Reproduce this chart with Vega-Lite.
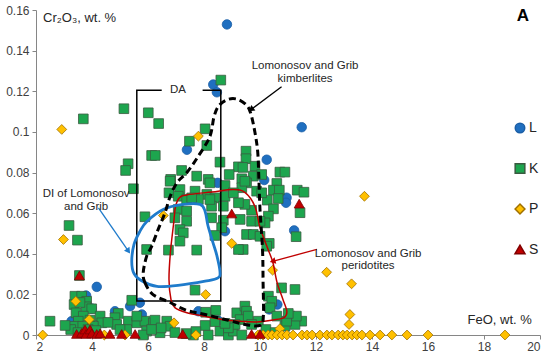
{
  "$schema": "https://vega.github.io/schema/vega-lite/v6.json",
  "width": 504,
  "height": 325,
  "autosize": {"type": "none"},
  "padding": {"left": 36, "top": 10, "right": 10, "bottom": 23},
  "config": {"view": {"stroke": null}, "font": "Liberation Sans"},
  "datasets": {
    "pts": [
      {"s":"L","x":8.82,"y":0.1529},{"s":"L","x":8.33,"y":0.1233},{"s":"L","x":8.46,"y":0.1195},{"s":"L","x":11.49,"y":0.1023},{"s":"L","x":7.39,"y":0.0912},{"s":"L","x":10.24,"y":0.0863},{"s":"L","x":10.15,"y":0.0763},{"s":"L","x":8.49,"y":0.0749},{"s":"L","x":10.95,"y":0.0676},{"s":"L","x":10.93,"y":0.0651},{"s":"L","x":8.75,"y":0.0511},{"s":"L","x":11.22,"y":0.0515},{"s":"L","x":4.17,"y":0.0237},{"s":"L","x":10.62,"y":0.015},{"s":"L","x":10.33,"y":0.0126},{"s":"L","x":5.36,"y":0.0142},{"s":"L","x":5.71,"y":0.0159},{"s":"L","x":5.78,"y":0.0101},{"s":"L","x":4.82,"y":0.0117},{"s":"L","x":7.8,"y":0.0117},{"s":"L","x":3.99,"y":0.013},{"s":"L","x":3.27,"y":0.0068},{"s":"L","x":3.79,"y":0.0194},{"s":"L","x":9.5,"y":0.011},{"s":"L","x":8.5,"y":0.0071},
      {"s":"K","x":3.69,"y":0.1064},{"s":"K","x":5.14,"y":0.1114},{"s":"K","x":6.01,"y":0.1094},{"s":"K","x":6.38,"y":0.1041},{"s":"K","x":6.13,"y":0.0884},{"s":"K","x":6.26,"y":0.0884},{"s":"K","x":5.29,"y":0.0843},{"s":"K","x":5.2,"y":0.081},{"s":"K","x":7.48,"y":0.0954},{"s":"K","x":8.04,"y":0.1015},{"s":"K","x":8.1,"y":0.0933},{"s":"K","x":7.2,"y":0.081},{"s":"K","x":6.81,"y":0.0766},{"s":"K","x":8.6,"y":0.1255},{"s":"K","x":8.57,"y":0.0851},{"s":"K","x":9.5,"y":0.0905},{"s":"K","x":9.5,"y":0.0868},{"s":"K","x":9.23,"y":0.0828},{"s":"K","x":9.82,"y":0.0831},{"s":"K","x":10.71,"y":0.0802},{"s":"K","x":10.89,"y":0.0802},{"s":"K","x":8.9,"y":0.079},{"s":"K","x":9.39,"y":0.0825},{"s":"K","x":9.35,"y":0.0769},{"s":"K","x":9.76,"y":0.0782},{"s":"K","x":9.52,"y":0.0749},{"s":"K","x":9.35,"y":0.0725},{"s":"K","x":9.88,"y":0.0708},{"s":"K","x":10.6,"y":0.0746},{"s":"K","x":10.48,"y":0.0713},{"s":"K","x":10.69,"y":0.0713},{"s":"K","x":10.65,"y":0.0672},{"s":"K","x":11.33,"y":0.0713},{"s":"K","x":11.57,"y":0.0703},{"s":"K","x":11.43,"y":0.0602},{"s":"K","x":10.26,"y":0.0664},{"s":"K","x":10.48,"y":0.0621},{"s":"K","x":10.3,"y":0.0585},{"s":"K","x":10.18,"y":0.0552},{"s":"K","x":9.7,"y":0.0614},{"s":"K","x":9.7,"y":0.056},{"s":"K","x":9.46,"y":0.0643},{"s":"K","x":9.52,"y":0.0495},{"s":"K","x":9.76,"y":0.0495},{"s":"K","x":11.29,"y":0.0484},{"s":"K","x":10.33,"y":0.0451},{"s":"K","x":10.24,"y":0.0437},{"s":"K","x":9.4,"y":0.0421},{"s":"K","x":7.74,"y":0.0782},{"s":"K","x":8.15,"y":0.0766},{"s":"K","x":8.21,"y":0.0749},{"s":"K","x":6.79,"y":0.0757},{"s":"K","x":8.75,"y":0.0736},{"s":"K","x":9.46,"y":0.0757},{"s":"K","x":10.06,"y":0.079},{"s":"K","x":7.14,"y":0.0716},{"s":"K","x":7.68,"y":0.0708},{"s":"K","x":6.75,"y":0.07},{"s":"K","x":7.08,"y":0.0683},{"s":"K","x":8.1,"y":0.0692},{"s":"K","x":8.39,"y":0.0675},{"s":"K","x":8.75,"y":0.0683},{"s":"K","x":9.05,"y":0.07},{"s":"K","x":10.06,"y":0.07},{"s":"K","x":7.38,"y":0.0667},{"s":"K","x":7.8,"y":0.0667},{"s":"K","x":8.27,"y":0.0634},{"s":"K","x":8.21,"y":0.0667},{"s":"K","x":8.69,"y":0.0634},{"s":"K","x":9.23,"y":0.0651},{"s":"K","x":7.08,"y":0.0618},{"s":"K","x":7.38,"y":0.061},{"s":"K","x":8.27,"y":0.0577},{"s":"K","x":8.69,"y":0.0565},{"s":"K","x":7.38,"y":0.056},{"s":"K","x":10.0,"y":0.056},{"s":"K","x":9.29,"y":0.0569},{"s":"K","x":7.14,"y":0.0519},{"s":"K","x":7.26,"y":0.0503},{"s":"K","x":8.63,"y":0.0528},{"s":"K","x":8.39,"y":0.049},{"s":"K","x":7.14,"y":0.0462},{"s":"K","x":6.73,"y":0.0418},{"s":"K","x":7.74,"y":0.0418},{"s":"K","x":9.23,"y":0.0421},{"s":"K","x":5.95,"y":0.0421},{"s":"K","x":5.48,"y":0.072},{"s":"K","x":7.56,"y":0.0675},{"s":"K","x":5.89,"y":0.0582},{"s":"K","x":6.96,"y":0.0577},{"s":"K","x":3.18,"y":0.0539},{"s":"K","x":3.48,"y":0.0467},{"s":"K","x":3.55,"y":0.0293},{"s":"K","x":10.0,"y":0.0486},{"s":"K","x":10.77,"y":0.0232},{"s":"K","x":11.25,"y":0.0224},{"s":"K","x":7.68,"y":0.0221},{"s":"K","x":8.06,"y":0.0112},{"s":"K","x":8.42,"y":0.0121},
      {"s":"K","x":3.39,"y":0.0191},{"s":"K","x":3.63,"y":0.0191},{"s":"K","x":3.81,"y":0.0166},{"s":"K","x":3.36,"y":0.015},{"s":"K","x":3.79,"y":0.0139},{"s":"K","x":3.99,"y":0.0129},{"s":"K","x":3.43,"y":0.0109},{"s":"K","x":3.69,"y":0.0093},{"s":"K","x":4.29,"y":0.0093},{"s":"K","x":3.51,"y":0.0068},{"s":"K","x":3.93,"y":0.0073},{"s":"K","x":4.35,"y":0.006},{"s":"K","x":3.36,"y":0.0043},{"s":"K","x":3.67,"y":0.0043},{"s":"K","x":4.05,"y":0.0043},{"s":"K","x":3.24,"y":0.0027},{"s":"K","x":2.5,"y":0.0068},{"s":"K","x":3.04,"y":0.0047},{"s":"K","x":3.57,"y":0.016},{"s":"K","x":3.86,"y":0.0027},{"s":"K","x":4.14,"y":0.0022},{"s":"K","x":3.5,"y":0.0012},
      {"s":"K","x":5.42,"y":0.0171},{"s":"K","x":4.94,"y":0.0106},{"s":"K","x":4.82,"y":0.0085},{"s":"K","x":5.3,"y":0.0068},{"s":"K","x":5.6,"y":0.006},{"s":"K","x":5.89,"y":0.0068},{"s":"K","x":6.19,"y":0.006},{"s":"K","x":6.67,"y":0.0068},{"s":"K","x":5.6,"y":0.0093},{"s":"K","x":4.88,"y":0.0052},{"s":"K","x":5.24,"y":0.0027},{"s":"K","x":5.95,"y":0.0019},{"s":"K","x":6.43,"y":0.0011},{"s":"K","x":6.79,"y":0.0043},{"s":"K","x":5.83,"y":0.0},{"s":"K","x":7.62,"y":0.0},{"s":"K","x":6.25,"y":0.0073},{"s":"K","x":6.13,"y":0.0027},{"s":"K","x":6.47,"y":0.0035},{"s":"K","x":6.96,"y":0.0012},{"s":"K","x":4.57,"y":0.0062},{"s":"K","x":5.0,"y":0.0027},
      {"s":"K","x":8.15,"y":0.0},{"s":"K","x":8.57,"y":0.0019},{"s":"K","x":8.87,"y":0.0},{"s":"K","x":9.05,"y":0.0019},{"s":"K","x":9.35,"y":0.0},{"s":"K","x":9.17,"y":0.0109},{"s":"K","x":9.46,"y":0.0142},{"s":"K","x":9.52,"y":0.0117},{"s":"K","x":9.29,"y":0.0076},{"s":"K","x":9.58,"y":0.0093},{"s":"K","x":9.94,"y":0.0068},{"s":"K","x":9.7,"y":0.0052},{"s":"K","x":9.11,"y":0.0052},{"s":"K","x":8.87,"y":0.0035},{"s":"K","x":10.3,"y":0.0191},{"s":"K","x":10.42,"y":0.0166},{"s":"K","x":10.36,"y":0.0134},{"s":"K","x":10.6,"y":0.0093},{"s":"K","x":11.07,"y":0.0093},{"s":"K","x":11.25,"y":0.008},{"s":"K","x":11.49,"y":0.0068},{"s":"K","x":11.25,"y":0.0052},{"s":"K","x":10.89,"y":0.0043},{"s":"K","x":10.95,"y":0.0068},{"s":"K","x":11.3,"y":0.0093},{"s":"K","x":11.01,"y":0.0106},{"s":"K","x":10.21,"y":0.0027},{"s":"K","x":10.54,"y":0.0012},{"s":"K","x":8.39,"y":0.0066},{"s":"K","x":8.04,"y":0.0047},{"s":"K","x":8.75,"y":0.0057},{"s":"K","x":7.71,"y":0.0017},{"s":"K","x":7.36,"y":0.0007},
      {"s":"P","x":2.92,"y":0.1012},{"s":"P","x":7.8,"y":0.0979},{"s":"P","x":6.55,"y":0.0588},{"s":"P","x":8.99,"y":0.0451},{"s":"P","x":10.45,"y":0.0319},{"s":"P","x":12.38,"y":0.0309},{"s":"P","x":13.27,"y":0.0252},{"s":"P","x":13.73,"y":0.0683},{"s":"P","x":2.98,"y":0.047},{"s":"P","x":3.42,"y":0.0166},{"s":"P","x":3.9,"y":0.0076},{"s":"P","x":2.24,"y":0.0},{"s":"P","x":6.93,"y":0.006},{"s":"P","x":8.06,"y":0.0199},{"s":"P","x":13.21,"y":0.0101},{"s":"P","x":13.18,"y":0.0052},{"s":"P","x":10.71,"y":0.0031},
      {"s":"P","x":4.44,"y":0.0},{"s":"P","x":5.18,"y":0.0},{"s":"P","x":7.71,"y":0.0},{"s":"P","x":9.93,"y":0.0},{"s":"P","x":10.11,"y":0.0},{"s":"P","x":10.29,"y":0.0},{"s":"P","x":10.43,"y":0.0},{"s":"P","x":10.61,"y":0.0},{"s":"P","x":10.79,"y":0.0},{"s":"P","x":10.96,"y":0.0},{"s":"P","x":11.18,"y":0.0},{"s":"P","x":11.5,"y":0.0},{"s":"P","x":11.68,"y":0.0},{"s":"P","x":11.86,"y":0.0},{"s":"P","x":12.14,"y":0.0},{"s":"P","x":12.39,"y":0.0},{"s":"P","x":12.57,"y":0.0},{"s":"P","x":12.79,"y":0.0},{"s":"P","x":12.96,"y":0.0},{"s":"P","x":13.11,"y":0.0},{"s":"P","x":13.29,"y":0.0},{"s":"P","x":13.46,"y":0.0},{"s":"P","x":13.64,"y":0.0},{"s":"P","x":13.93,"y":0.0},{"s":"P","x":14.29,"y":0.0},{"s":"P","x":14.71,"y":0.0},{"s":"P","x":15.25,"y":0.0},{"s":"P","x":16.0,"y":0.0},{"s":"P","x":18.75,"y":0.0},
      {"s":"S","x":3.45,"y":0.0005},{"s":"S","x":3.63,"y":0.001},{"s":"S","x":3.75,"y":0.0027},{"s":"S","x":3.79,"y":0.0005},{"s":"S","x":3.93,"y":0.0027},{"s":"S","x":3.99,"y":0.0008},{"s":"S","x":4.17,"y":0.0005},{"s":"S","x":4.29,"y":0.0008},{"s":"S","x":4.64,"y":0.0005},{"s":"S","x":5.06,"y":0.0005},{"s":"S","x":5.54,"y":0.0005},{"s":"S","x":7.24,"y":0.0005},{"s":"S","x":9.7,"y":0.0005},{"s":"S","x":10.0,"y":0.0005},{"s":"S","x":3.55,"y":0.0293},{"s":"S","x":8.99,"y":0.0598},{"s":"S","x":11.4,"y":0.0647}
    ],
    "shp": [
      {"s":"DA","i":0,"x":6.49,"y":0.1205},{"s":"DA","i":1,"x":5.6,"y":0.1205},{"s":"DA","i":2,"x":5.6,"y":0.0168},{"s":"DA","i":3,"x":8.6,"y":0.0168},{"s":"DA","i":4,"x":8.6,"y":0.1205},{"s":"DA","i":5,"x":7.95,"y":0.1205},
      {"s":"KB","i":0,"x":5.83,"y":0.0308},{"s":"KB","i":1,"x":5.89,"y":0.0258},{"s":"KB","i":2,"x":6.18,"y":0.0199},{"s":"KB","i":3,"x":6.79,"y":0.016},{"s":"KB","i":4,"x":7.39,"y":0.0121},{"s":"KB","i":5,"x":8.04,"y":0.0101},{"s":"KB","i":6,"x":8.86,"y":0.0073},{"s":"KB","i":7,"x":9.46,"y":0.0052},{"s":"KB","i":8,"x":10.0,"y":0.0047},{"s":"KB","i":9,"x":10.12,"y":0.0093},{"s":"KB","i":10,"x":10.11,"y":0.0258},{"s":"KB","i":11,"x":10.09,"y":0.0421},{"s":"KB","i":12,"x":10.0,"y":0.0618},{"s":"KB","i":13,"x":9.96,"y":0.0766},{"s":"KB","i":14,"x":9.92,"y":0.0899},{"s":"KB","i":15,"x":9.82,"y":0.0997},{"s":"KB","i":16,"x":9.68,"y":0.1086},{"s":"KB","i":17,"x":9.53,"y":0.113},{"s":"KB","i":18,"x":9.21,"y":0.116},{"s":"KB","i":19,"x":8.86,"y":0.116},{"s":"KB","i":20,"x":8.54,"y":0.113},{"s":"KB","i":21,"x":8.36,"y":0.1076},{"s":"KB","i":22,"x":8.21,"y":0.0977},{"s":"KB","i":23,"x":7.79,"y":0.0879},{"s":"KB","i":24,"x":7.39,"y":0.08},{"s":"KB","i":25,"x":7.04,"y":0.0751},{"s":"KB","i":26,"x":6.79,"y":0.0682},{"s":"KB","i":27,"x":6.61,"y":0.0603},{"s":"KB","i":28,"x":6.36,"y":0.0519},{"s":"KB","i":29,"x":6.13,"y":0.0436},{"s":"KB","i":30,"x":5.95,"y":0.0387},
      {"s":"PR","i":0,"x":6.98,"y":0.063},{"s":"PR","i":1,"x":7.12,"y":0.0675},{"s":"PR","i":2,"x":7.4,"y":0.069},{"s":"PR","i":3,"x":8.28,"y":0.0704},{"s":"PR","i":4,"x":9.04,"y":0.0716},{"s":"PR","i":5,"x":9.46,"y":0.0702},{"s":"PR","i":6,"x":9.82,"y":0.0633},{"s":"PR","i":7,"x":10.0,"y":0.0529},{"s":"PR","i":8,"x":10.29,"y":0.0421},{"s":"PR","i":9,"x":10.46,"y":0.0357},{"s":"PR","i":10,"x":10.61,"y":0.0258},{"s":"PR","i":11,"x":10.82,"y":0.0175},{"s":"PR","i":12,"x":10.96,"y":0.0116},{"s":"PR","i":13,"x":10.86,"y":0.0086},{"s":"PR","i":14,"x":10.46,"y":0.0074},{"s":"PR","i":15,"x":9.89,"y":0.0064},{"s":"PR","i":16,"x":8.93,"y":0.0071},{"s":"PR","i":17,"x":8.07,"y":0.0091},{"s":"PR","i":18,"x":7.36,"y":0.0111},{"s":"PR","i":19,"x":6.96,"y":0.0135},{"s":"PR","i":20,"x":6.82,"y":0.0175},{"s":"PR","i":21,"x":6.75,"y":0.0273},{"s":"PR","i":22,"x":6.8,"y":0.0406},{"s":"PR","i":23,"x":6.92,"y":0.0555},
      {"s":"DI","i":0,"x":5.42,"y":0.0362},{"s":"DI","i":1,"x":5.5,"y":0.0446},{"s":"DI","i":2,"x":5.71,"y":0.051},{"s":"DI","i":3,"x":5.96,"y":0.0559},{"s":"DI","i":4,"x":6.54,"y":0.0618},{"s":"DI","i":5,"x":7.25,"y":0.0643},{"s":"DI","i":6,"x":7.86,"y":0.0643},{"s":"DI","i":7,"x":8.04,"y":0.0608},{"s":"DI","i":8,"x":8.14,"y":0.0539},{"s":"DI","i":9,"x":8.32,"y":0.0455},{"s":"DI","i":10,"x":8.46,"y":0.0391},{"s":"DI","i":11,"x":8.57,"y":0.0313},{"s":"DI","i":12,"x":8.5,"y":0.0281},{"s":"DI","i":13,"x":8.04,"y":0.0265},{"s":"DI","i":14,"x":7.07,"y":0.0244},{"s":"DI","i":15,"x":6.32,"y":0.0239},{"s":"DI","i":16,"x":5.82,"y":0.0263},{"s":"DI","i":17,"x":5.5,"y":0.0303}
    ],
    "arr": [
      {"a":"k","i":0,"x":10.77,"y":0.1222},{"a":"k","i":1,"x":9.68,"y":0.111},
      {"a":"r","i":0,"x":12.03,"y":0.0421},{"a":"r","i":1,"x":10.45,"y":0.0363},
      {"a":"b","i":0,"x":4.23,"y":0.0626},{"a":"b","i":1,"x":5.3,"y":0.0413}
    ],
    "txt": [
      {"k":"c","x":11.61,"y":0.1322,"t":"Lomonosov and Grib\nkimberlites"},
      {"k":"c","x":13.86,"y":0.0399,"t":"Lomonosov and Grib\nperidotites"},
      {"k":"c","x":3.79,"y":0.0693,"t":"DI of Lomonosov\nand Grib"},
      {"k":"c","x":7.07,"y":0.1205,"t":"DA"},
      {"k":"l","x":2.25,"y":0.156,"t":"Cr₂O₃, wt. %"},
      {"k":"r","x":19.71,"y":0.0076,"t":"FeO, wt. %"},
      {"k":"b","x":19.39,"y":0.157,"t":"A"}
    ]
  },
  "encoding": {
    "x": {"field": "x", "type": "quantitative", "scale": {"domain": [2, 20], "nice": false, "zero": false},
      "axis": {"title": null, "values": [2,4,6,8,10,12,14,16,18,20], "grid": false, "tickSize": 4, "labelFontSize": 12, "labelColor": "#404040", "domainColor": "#868686", "tickColor": "#868686", "labelPadding": 2}},
    "y": {"field": "y", "type": "quantitative", "scale": {"domain": [0, 0.16], "nice": false},
      "axis": {"title": null, "values": [0,0.02,0.04,0.06,0.08,0.1,0.12,0.14,0.16], "format": "~g", "grid": false, "tickSize": 4, "labelFontSize": 12, "labelColor": "#404040", "domainColor": "#868686", "tickColor": "#868686", "labelPadding": 3}}
  },
  "layer": [
    {
      "data": {"name": "pts"},
      "mark": {"type": "point", "filled": true, "opacity": 1, "strokeWidth": 0.8},
      "encoding": {
        "color": {"field": "s", "type": "nominal", "scale": {"domain": ["L","K","P","S"], "range": ["#1F6FC0","#1DA54E","#FFC000","#C00000"]},
          "legend": {"title": null, "orient": "none", "legendX": 477, "legendY": 111, "labelFontSize": 14, "labelColor": "#262626", "rowPadding": 24.5, "symbolSize": 100, "labelOffset": 2}},
        "shape": {"field": "s", "type": "nominal", "scale": {"domain": ["L","K","P","S"], "range": ["circle","square","diamond","triangle-up"]}},
        "stroke": {"field": "s", "type": "nominal", "scale": {"domain": ["L","K","P","S"], "range": ["#1A5EA6","#3A5A40","#A07000","#800000"]}},
        "size": {"field": "s", "type": "ordinal", "scale": {"domain": ["L","K","P","S"], "range": [90,100,120,95]}, "legend": null}
      }
    },
    {
      "data": {"name": "shp"},
      "transform": [{"filter": "datum.s === 'DA'"}],
      "mark": {"type": "line", "color": "#000000", "strokeWidth": 1.5},
      "encoding": {"order": {"field": "i", "type": "quantitative"}}
    },
    {
      "data": {"name": "shp"},
      "transform": [{"filter": "datum.s === 'PR'"}],
      "mark": {"type": "line", "color": "#C00000", "strokeWidth": 1.5, "interpolate": "cardinal-closed"},
      "encoding": {"order": {"field": "i", "type": "quantitative"}}
    },
    {
      "data": {"name": "shp"},
      "transform": [{"filter": "datum.s === 'DI'"}],
      "mark": {"type": "line", "color": "#1F7BCB", "strokeWidth": 2.8, "interpolate": "cardinal-closed"},
      "encoding": {"order": {"field": "i", "type": "quantitative"}}
    },
    {
      "data": {"name": "shp"},
      "transform": [{"filter": "datum.s === 'KB'"}],
      "mark": {"type": "line", "color": "#000000", "strokeWidth": 3, "strokeDash": [7, 4], "interpolate": "cardinal-closed"},
      "encoding": {"order": {"field": "i", "type": "quantitative"}}
    },
    {
      "data": {"name": "arr"},
      "transform": [{"filter": "datum.a === 'k'"}],
      "layer": [
        {"mark": {"type": "line", "color": "#000000", "strokeWidth": 1.3}, "encoding": {"order": {"field": "i", "type": "quantitative"}}},
        {"transform": [{"filter": "datum.i === 1"}], "mark": {"type": "point", "shape": "triangle-up", "filled": true, "color": "#000000", "size": 45, "angle": 233.5, "opacity": 1}, "encoding": {}}
      ]
    },
    {
      "data": {"name": "arr"},
      "transform": [{"filter": "datum.a === 'r'"}],
      "layer": [
        {"mark": {"type": "line", "color": "#C00000", "strokeWidth": 1.3}, "encoding": {"order": {"field": "i", "type": "quantitative"}}},
        {"transform": [{"filter": "datum.i === 1"}], "mark": {"type": "point", "shape": "triangle-up", "filled": true, "color": "#C00000", "size": 45, "angle": 255, "opacity": 1}, "encoding": {}}
      ]
    },
    {
      "data": {"name": "arr"},
      "transform": [{"filter": "datum.a === 'b'"}],
      "layer": [
        {"mark": {"type": "line", "color": "#1F7BCB", "strokeWidth": 1.3}, "encoding": {"order": {"field": "i", "type": "quantitative"}}},
        {"transform": [{"filter": "datum.i === 1"}], "mark": {"type": "point", "shape": "triangle-up", "filled": true, "color": "#1F7BCB", "size": 45, "angle": 145, "opacity": 1}, "encoding": {}}
      ]
    },
    {
      "data": {"name": "txt"},
      "transform": [{"filter": "datum.k === 'c'"}],
      "mark": {"type": "text", "align": "center", "baseline": "middle", "fontSize": 11.5, "color": "#262626", "lineBreak": "\n", "lineHeight": 12.5},
      "encoding": {"text": {"field": "t"}}
    },
    {
      "data": {"name": "txt"},
      "transform": [{"filter": "datum.k === 'l'"}],
      "mark": {"type": "text", "align": "left", "baseline": "middle", "fontSize": 13, "color": "#262626"},
      "encoding": {"text": {"field": "t"}}
    },
    {
      "data": {"name": "txt"},
      "transform": [{"filter": "datum.k === 'r'"}],
      "mark": {"type": "text", "align": "right", "baseline": "middle", "fontSize": 13, "color": "#262626"},
      "encoding": {"text": {"field": "t"}}
    },
    {
      "data": {"name": "txt"},
      "transform": [{"filter": "datum.k === 'b'"}],
      "mark": {"type": "text", "align": "center", "baseline": "middle", "fontSize": 17, "fontWeight": "bold", "color": "#000000"},
      "encoding": {"text": {"field": "t"}}
    }
  ]
}
